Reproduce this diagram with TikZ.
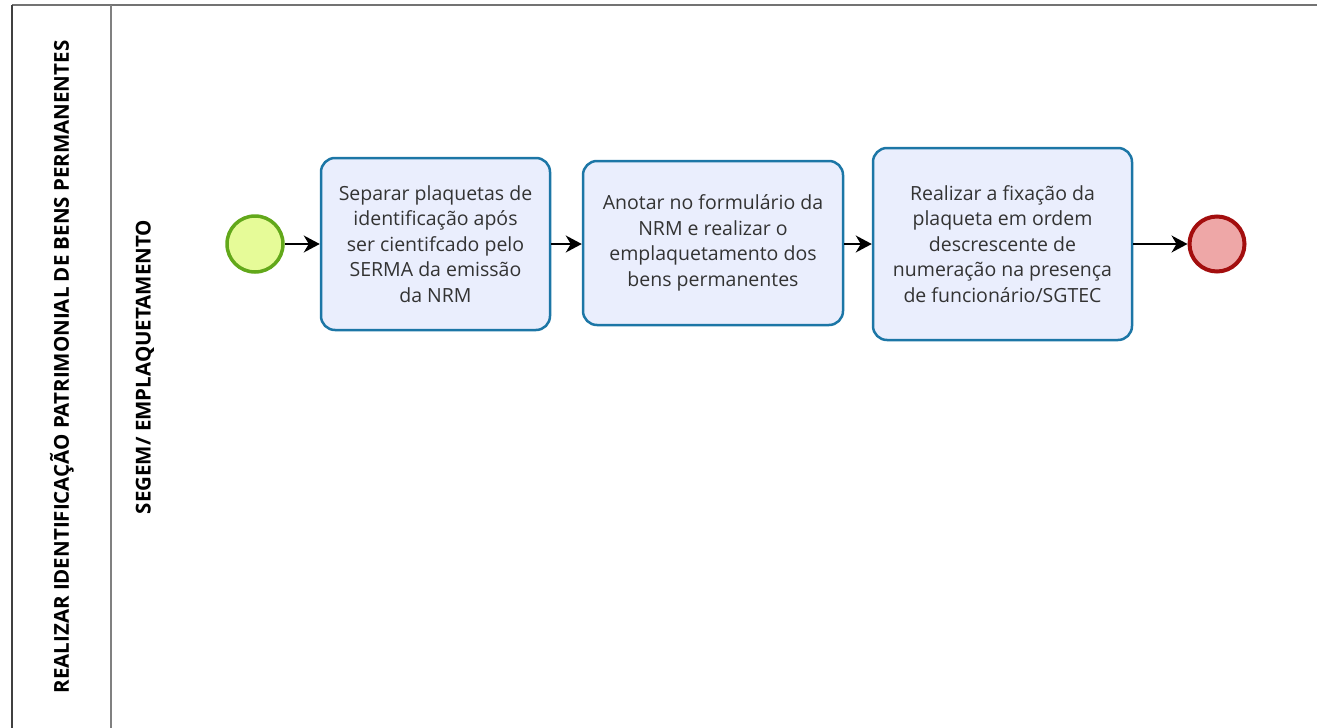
\documentclass[tikz,border=0pt]{standalone}
\usepackage{fontspec}
\setmainfont{Open Sans}
\usetikzlibrary{arrows.meta}
\definecolor{taskfill}{HTML}{EAEEFD}
\definecolor{taskdraw}{HTML}{1C76A6}
\definecolor{startfill}{HTML}{E6FB98}
\definecolor{startdraw}{HTML}{62A81A}
\definecolor{endfill}{HTML}{EEA7A7}
\definecolor{enddraw}{HTML}{A30E0E}
\definecolor{txt}{HTML}{333333}
\tikzset{
  tasknode/.style={draw=taskdraw, fill=taskfill, line width=2.5pt, rounded corners=14pt,
    align=center, font=\fontsize{19.5}{25.5}\selectfont, text=txt, inner sep=0pt},
  startev/.style={circle, draw=startdraw, fill=startfill, line width=3.5pt, minimum size=56pt, inner sep=0pt},
  endev/.style={circle, draw=enddraw, fill=endfill, line width=4pt, minimum size=55pt, inner sep=0pt},
  flow/.style={draw=black, line width=1.5pt, -{Stealth[length=16pt,width=17pt,inset=5pt]}},
  poollabel/.style={rotate=90, font=\bfseries\fontsize{20.5}{24}\selectfont, text=black},
}
\begin{document}
\begin{tikzpicture}[x=1pt,y=-1pt]
\useasboundingbox (0,0) rectangle (1317,728);
% pool
\draw[draw=gray!90!black, line width=2.5pt] (12,5) -- (1317,5);
\draw[draw=black!75, line width=2.5pt] (12,5) -- (12,728);
\draw[draw=gray, line width=2pt] (111,5) -- (111,728);
\node[poollabel] (pool) at (62,367) {REALIZAR IDENTIFICAÇÃO PATRIMONIAL DE BENS PERMANENTES};
\node[poollabel] (lane) at (145,367) {SEGEM/ EMPLAQUETAMENTO};
% events and tasks
\node[startev] (start) at (255,244) {};
\node[tasknode, minimum width=229pt, minimum height=172pt] (t1) at (435.5,244)
  {Separar plaquetas de\\identificação após\\ser cientifcado pelo\\SERMA da emissão\\da NRM};
\node[tasknode, minimum width=260pt, minimum height=164pt] (t2) at (713,243)
  {Anotar no formulário da\\NRM e realizar o\\emplaquetamento dos\\bens permanentes};
\node[tasknode, minimum width=259pt, minimum height=192pt] (t3) at (1002.5,244)
  {Realizar a fixação da\\plaqueta em ordem\\descrescente de\\numeração na presença\\de funcionário/SGTEC};
\node[endev] (end) at (1217,244) {};
% flows
\draw[flow] (start.east) -- (t1.west |- start.east);
\draw[flow] (t1.east |- 0,244) -- (t2.west |- 0,244);
\draw[flow] (t2.east |- 0,244) -- (t3.west |- 0,244);
\draw[flow] (t3.east |- 0,244) -- (end.west);
\end{tikzpicture}
\end{document}
